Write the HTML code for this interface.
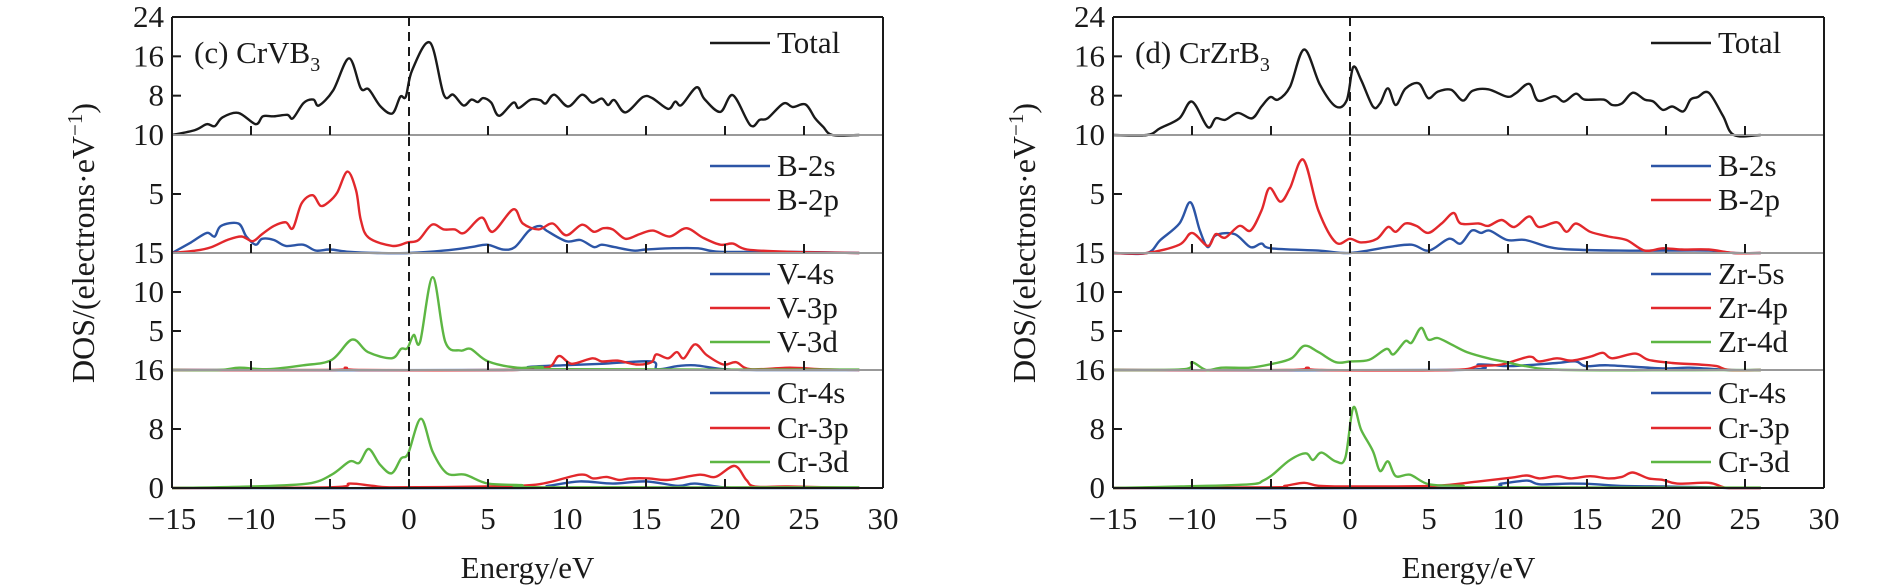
<!DOCTYPE html>
<html><head><meta charset="utf-8"><style>
html,body{margin:0;padding:0;background:#fff;}
svg{display:block;font-family:"Liberation Serif",serif;}
</style></head><body>
<svg id="chart" width="1890" height="587" viewBox="0 0 1890 587" xmlns="http://www.w3.org/2000/svg"></svg>
<script>
// ---------------- data: panel (c) CrVB3 ----------------
const cTotal=[[-15,0],[-13.55,1.0],[-12.8,2.2],[-12.3,1.8],[-11.8,3.6],[-10.8,4.5],[-9.7,2.2],[-9.25,3.8],[-8.55,3.8],[-7.7,4.1],[-7.35,3.4],[-6.67,6.5],[-6.05,7.2],[-5.7,6.0],[-4.8,9.1],[-3.8,15.6],[-3.05,9.5],[-2.55,9.3],[-1.8,5.8],[-1.05,4.4],[-0.55,7.8],[-0.2,7.8],[0.2,13.2],[1.33,18.8],[2.2,8.2],[2.8,8.2],[3.45,6.0],[3.95,7.2],[4.35,6.7],[4.7,7.5],[5.2,6.6],[5.7,3.9],[6.6,6.6],[6.95,5.5],[7.7,7.2],[8.3,7.1],[8.65,6.4],[9.2,8.2],[10.07,5.8],[10.95,8.2],[11.6,6.6],[12.2,7.4],[12.6,6.1],[13.0,7.1],[13.7,4.6],[14.8,7.7],[15.4,7.5],[16.4,5.3],[16.85,6.8],[17.25,6.1],[18.2,9.7],[18.7,7.3],[19.7,4.7],[20.5,8.1],[21.6,2.0],[22.2,3.1],[22.7,3.4],[23.7,6.4],[24.3,5.7],[25.1,6.2],[25.7,3.4],[26.2,1.7],[26.8,0],[28.5,0]];
const cB2s=[[-15,0],[-13.8,0.9],[-12.8,1.7],[-12.3,1.4],[-11.9,2.3],[-10.8,2.5],[-10.3,1.4],[-9.7,0.7],[-9.3,1.2],[-8.55,1.1],[-7.8,0.6],[-6.7,0.7],[-5.9,0.2],[-5.0,0.3],[-3.8,0.1],[-2,0],[0,0],[2.2,0.2],[3.95,0.5],[4.95,0.7],[5.95,0.3],[6.7,0.5],[7.6,1.9],[8.3,2.3],[8.7,1.9],[9.95,1.0],[10.85,1.1],[11.7,0.5],[12.2,0.7],[13,0.5],[14.2,0.2],[15,0.3],[16.5,0.4],[18.3,0.4],[19.7,0.1],[24,0.1],[28.5,0]];
const cB2p=[[-15,0],[-13.5,0.2],[-12.5,0.5],[-11.5,1.1],[-10.6,1.4],[-9.9,1.0],[-9.3,1.6],[-8.55,2.3],[-7.8,2.6],[-7.35,2.1],[-6.8,4.2],[-6.1,4.9],[-5.6,4.0],[-5.1,4.3],[-4.55,5.1],[-3.9,6.9],[-3.35,5.3],[-3.05,2.8],[-2.55,1.3],[-1.05,0.6],[-0.1,0.9],[0.6,1.1],[1.45,2.4],[2.2,2.0],[2.9,2.0],[3.5,1.7],[4.6,3.0],[5.3,1.8],[6.6,3.7],[7.2,2.5],[8.2,2.0],[9.1,2.5],[9.95,1.5],[10.95,2.4],[11.7,1.8],[12.3,2.1],[12.9,2.0],[13.7,1.2],[14.6,1.6],[15.45,1.9],[16.5,1.4],[17.55,2.1],[18.6,1.3],[19.7,0.7],[20.5,0.8],[21.4,0.3],[24,0.1],[28.5,0]];
const cV4s=[[-15,0],[6,0],[7.6,0.4],[9.7,0.6],[12.2,0.8],[15.35,1.1],[15.7,0.1],[17,0.5],[18.1,0.6],[19.9,0.1],[22,0],[28.5,0]];
const cV3p=[[-15,0],[-5,0],[-4.0,0.3],[-3,0],[6.5,0],[7.6,0.3],[8.9,0.4],[9.5,1.8],[10.3,0.8],[11.6,1.5],[12.2,1.1],[13.2,1.2],[14.4,0.7],[15.35,1.0],[15.65,2.0],[16.4,1.5],[16.95,2.3],[17.4,1.5],[18.1,3.3],[18.85,1.9],[19.9,0.7],[20.7,1.0],[21.6,0.1],[24.1,0.3],[26,0.1],[28.5,0]];
const cV3d=[[-15,0],[-12,0],[-10.75,0.3],[-9,0.1],[-6.7,0.6],[-4.9,1.3],[-3.6,3.9],[-2.6,2.3],[-1.1,1.5],[-0.5,2.7],[-0.1,2.8],[0.3,4.5],[0.7,3.6],[1.5,11.9],[2.3,3.6],[3.25,2.5],[3.9,2.7],[5.0,1.1],[6.85,0.3],[8.4,0.4],[9.8,0.1],[28.5,0.05]];
const cCr4s=[[-15,0],[7,0],[8.8,0.3],[10.8,0.9],[12.9,0.6],[15,0.9],[17,0.3],[18.1,0.6],[19.9,0.1],[22,0],[28.5,0]];
const cCr3p=[[-15,0],[-5,0.1],[-3.75,0.6],[-2.3,0.3],[-1,0.1],[5,0.2],[8.2,0.5],[10.8,1.8],[11.65,1.3],[12.5,1.5],[13.3,1.1],[14.0,1.3],[15.2,1.3],[16.4,1.1],[18.4,1.8],[19.4,1.5],[20.6,3.0],[21.35,1.1],[21.9,0.2],[24,0.2],[28.5,0]];
const cCr3d=[[-15,0],[-10,0.2],[-6.4,0.6],[-4.9,1.8],[-3.75,3.6],[-3.15,3.4],[-2.55,5.3],[-1.85,3.2],[-1.1,2.0],[-0.5,4.0],[-0.05,4.7],[0.75,9.4],[1.5,4.9],[2.4,2.0],[3.55,1.8],[5.0,0.6],[7.1,0.4],[8.5,0.1],[28.5,0.1]];
// ---------------- data: panel (d) CrZrB3 ----------------
const dTotal=[[-15,0],[-12.85,0],[-12,1.4],[-10.8,3.4],[-10.0,6.8],[-9.0,1.6],[-8.5,3.4],[-7.9,3.1],[-7.1,4.5],[-6.2,3.4],[-5.6,5.8],[-5.05,7.7],[-4.55,7.2],[-3.8,9.8],[-2.9,17.4],[-1.9,10.2],[-0.9,5.8],[-0.2,7.1],[0.2,13.8],[0.7,11.2],[1.45,5.8],[1.9,6.4],[2.4,9.5],[2.9,6.1],[3.5,9.4],[4.35,10.5],[4.95,7.5],[5.55,8.8],[6.4,9.2],[7.15,7.0],[7.75,9.0],[8.75,9.3],[9.95,7.8],[10.5,8.5],[11.35,10.4],[11.9,7.0],[12.95,7.9],[13.55,6.8],[14.3,8.4],[14.85,7.2],[16.05,7.2],[16.6,6.1],[17.2,6.4],[17.9,8.6],[18.65,7.2],[19.2,6.8],[19.8,5.1],[20.4,5.8],[21.1,4.8],[21.55,7.2],[22,7.7],[22.7,8.6],[23.6,3.9],[24.3,0],[26,0]];
const dB2s=[[-15,0],[-12.85,0],[-12,1.1],[-10.8,2.5],[-10.1,4.3],[-9.5,1.9],[-9.0,0.5],[-8.5,1.5],[-7.3,1.6],[-6.3,0.5],[-5.6,0.8],[-5.0,0.4],[-2.0,0.2],[0,0],[2.4,0.5],[3.9,0.7],[5.0,0.2],[6.25,1.2],[7.0,0.8],[7.7,1.9],[8.3,1.7],[8.85,1.9],[9.95,1.1],[11.1,1.1],[12.6,0.5],[14,0.3],[17,0.2],[19.8,0.2],[22.7,0.2],[24.3,0],[26,0]];
const dB2p=[[-15,0],[-12.85,0],[-10.8,0.7],[-10,1.7],[-9,0.6],[-8.5,1.6],[-7.9,1.3],[-7.0,2.3],[-6.3,1.9],[-5.6,3.6],[-5.1,5.5],[-4.4,4.35],[-3.8,5.5],[-2.95,7.9],[-2.0,3.6],[-0.9,0.9],[0,1.2],[0.7,0.9],[1.7,1.2],[2.4,2.2],[2.9,1.8],[3.5,2.5],[4.2,2.3],[4.95,1.7],[5.8,2.5],[6.55,3.4],[7.0,2.5],[8.15,2.5],[8.75,2.3],[9.6,2.8],[10.4,2.2],[11.35,3.1],[11.95,2.2],[13.1,2.6],[13.7,1.8],[14.3,2.5],[15.2,1.8],[16.35,1.4],[17.5,1.1],[18.65,0.2],[19.8,0.4],[21,0.3],[22.7,0.3],[24.3,0],[26,0]];
const dZr5s=[[-15,0],[6.5,0],[8.15,0.7],[9.9,0.5],[11.1,0.6],[13.1,0.9],[14.3,1.1],[14.9,0.5],[16.35,0.6],[19.8,0.2],[21.5,0.3],[24,0],[26,0]];
const dZr4p=[[-15,0],[-4,0],[-2.7,0.3],[-1.8,0],[6.4,0],[8.15,0.5],[9.6,0.7],[11.35,1.7],[11.95,1.1],[13.1,1.5],[14,1.2],[15.2,1.7],[16.0,2.2],[16.6,1.5],[18.05,2.1],[18.9,1.3],[20.4,0.9],[22.1,0.7],[23.2,0.5],[24,0],[26,0]];
const dZr4d=[[-15,0],[-10.5,0.1],[-10.0,1.0],[-9.1,0],[-8.1,0.3],[-6.35,0.3],[-4.9,0.8],[-3.7,1.5],[-2.9,3.1],[-2.0,2.3],[-0.9,1.0],[0,1.1],[1.2,1.3],[2.3,2.7],[2.75,2.0],[3.5,3.7],[3.9,3.5],[4.5,5.4],[4.95,3.9],[5.55,4.1],[6.4,3.3],[7.4,2.3],[8.75,1.5],[9.95,1.0],[11.1,0.5],[14,0],[26,0]];
const dCr4s=[[-15,0],[7,0],[9.6,0.6],[11.2,1.0],[12,0.5],[14,0.6],[15.6,0.5],[17,0.3],[19.8,0.2],[22.7,0.1],[24,0],[26,0]];
const dCr3p=[[-15,0],[-5,0.1],[-4.1,0.3],[-2.9,0.7],[-2,0.3],[0,0.2],[5.3,0.3],[8.15,0.9],[10.2,1.4],[11.2,1.7],[12,1.3],[13.1,1.6],[14,1.3],[15.2,1.6],[16.35,1.3],[17.2,1.5],[17.9,2.1],[18.9,1.3],[19.8,1.1],[20.7,0.6],[22.7,0.7],[23.5,0.2],[24,0],[26,0]];
const dCr3d=[[-15,0],[-10.7,0.2],[-6.35,0.5],[-5.5,1.0],[-4.9,1.8],[-3.8,3.8],[-2.8,4.7],[-2.35,3.8],[-1.8,4.8],[-0.9,3.6],[-0.3,4.1],[0.2,10.9],[0.7,7.9],[1.45,5.0],[1.9,2.3],[2.4,3.6],[2.9,1.6],[3.8,1.8],[5.0,0.5],[7.1,0.3],[8.5,0.1],[26,0.05]];
// axis ticks / labels
const xTicks=[-15,-10,-5,0,5,10,15,20,25,30];
const innerTicks=[-10,-5,0,5,10,15,20,25];
const subMax=[24,10,15,16];
const subTickVals=[[24,16,8],[5],[10,5],[8,0]];
const boundaryLabels=["10","15","16"];
const legendsC=[["Total"],["B-2s","B-2p"],["V-4s","V-3p","V-3d"],["Cr-4s","Cr-3p","Cr-3d"]];
const legendsD=[["Total"],["B-2s","B-2p"],["Zr-5s","Zr-4p","Zr-4d"],["Cr-4s","Cr-3p","Cr-3d"]];
const seriesC=[[cTotal],[cB2s,cB2p],[cV4s,cV3p,cV3d],[cCr4s,cCr3p,cCr3d]];
const seriesD=[[dTotal],[dB2s,dB2p],[dZr5s,dZr4p,dZr4d],[dCr4s,dCr3p,dCr3d]];

const NS="http://www.w3.org/2000/svg";
const svg=document.getElementById('chart');
function mk(tag,attrs,parent){const e=document.createElementNS(NS,tag);for(const k in attrs)e.setAttribute(k,attrs[k]);(parent||svg).appendChild(e);return e;}
const colTotal=['#1a1a1a'];
const col2=['#2c55a6','#e2282c'];
const col3=['#2c55a6','#e2282c','#5db643'];
const subTop=[17,135,253,370], subBot=[135,253,370,488];
const PX=15.8;
function pathFrom(pts,sx,sy){
  const p=pts.map(d=>[sx(d[0]),sy(d[1])]);
  let s='M'+p[0][0].toFixed(1)+','+p[0][1].toFixed(1);
  for(let i=0;i<p.length-1;i++){
    const p0=p[i-1]||p[i],p1=p[i],p2=p[i+1],p3=p[i+2]||p2;
    const c1x=p1[0]+(p2[0]-p0[0])/6,c1y=p1[1]+(p2[1]-p0[1])/6;
    const c2x=p2[0]-(p3[0]-p1[0])/6,c2y=p2[1]-(p3[1]-p1[1])/6;
    s+='C'+c1x.toFixed(1)+','+c1y.toFixed(1)+' '+c2x.toFixed(1)+','+c2y.toFixed(1)+' '+p2[0].toFixed(1)+','+p2[1].toFixed(1);
  }
  return s;
}
function drawPanel(x0,title,legends,series,pname){
  const g=mk('g',{});
  
  
  const sx=e=>x0+(e+15)*PX;
  const xR=sx(30);
  // series
  for(let k=0;k<4;k++){
    const sy=v=>subBot[k]-v/subMax[k]*(subBot[k]-subTop[k]);
    const cols=series[k].length===1?colTotal:(series[k].length===2?col2:col3);
    series[k].forEach((s,j)=>{
      const p=mk('path',{d:pathFrom(s,sx,sy),fill:'none',stroke:cols[j],'stroke-width':2.4,'stroke-linejoin':'round'},g);
      
      
    });
    // legend
    legends[k].forEach((lab,j)=>{
      const ly=[[43],[166,200],[274,308,342],[393,428,462]][k][j];
      const lg=mk('g',{},g);
      
      
      mk('line',{x1:x0+538,x2:x0+598,y1:ly,y2:ly,stroke:cols[j],'stroke-width':2.6},lg);
      const t=mk('text',{x:x0+605,y:ly+10,'font-size':31,fill:'#1a1a1a'},lg);t.textContent=lab;
    });
    // separators & inner ticks
    if(k<3){
      const sep=mk('line',{x1:x0,x2:xR,y1:subBot[k],y2:subBot[k],stroke:'#999','stroke-width':2},g);
      
      
    }
    innerTicks.forEach(v=>{mk('line',{x1:sx(v),x2:sx(v),y1:subBot[k],y2:subBot[k]-9,stroke:'#1a1a1a','stroke-width':2},g);});
    // y ticks
    subTickVals[k].forEach(v=>{
      const y=sy(v);
      mk('line',{x1:x0,x2:x0+9,y1:y,y2:y,stroke:'#1a1a1a','stroke-width':2},g);
      const t=mk('text',{x:x0-8,y:y+10,'font-size':31,'text-anchor':'end',fill:'#1a1a1a'},g);t.textContent=v;
      
      
    });
    if(k<3){
      const t=mk('text',{x:x0-8,y:subBot[k]+10,'font-size':31,'text-anchor':'end',fill:'#1a1a1a'},g);t.textContent=boundaryLabels[k];
      
      
    }
  }
  // frame
  mk('line',{x1:x0,x2:xR,y1:17,y2:17,stroke:'#1a1a1a','stroke-width':2},g);
  mk('line',{x1:x0,x2:xR,y1:488,y2:488,stroke:'#1a1a1a','stroke-width':2},g);
  mk('line',{x1:x0,x2:x0,y1:17,y2:488,stroke:'#1a1a1a','stroke-width':2},g);
  mk('line',{x1:xR,x2:xR,y1:17,y2:488,stroke:'#1a1a1a','stroke-width':2},g);
  // fermi level
  const f=mk('line',{x1:sx(0),x2:sx(0),y1:17,y2:488,stroke:'#1a1a1a','stroke-width':2,'stroke-dasharray':'9,6'},g);
  
  
  // x tick labels
  xTicks.forEach(v=>{
    const t=mk('text',{x:sx(v),y:529,'font-size':31,'text-anchor':'middle',fill:'#1a1a1a'},g);
    t.textContent=(v<0?'\u2212'+(-v):String(v));
    
    
  });
  const xt=mk('text',{x:(x0+xR)/2,y:578,'font-size':31,'text-anchor':'middle',fill:'#1a1a1a'},g);
  xt.textContent='Energy/eV';
  
  
  const yt=mk('text',{x:0,y:0,'font-size':32,'text-anchor':'middle',fill:'#1a1a1a',transform:'translate('+(x0-78)+',243) rotate(-90)'},g);
  yt.innerHTML='DOS/(electrons·eV<tspan dy="-12" font-size="21">−1</tspan><tspan dy="12">)</tspan>';
  
  
  const tt=mk('text',{x:x0+22,y:63,'font-size':31,fill:'#1a1a1a'},g);
  tt.innerHTML=title+'<tspan dy="8" font-size="20">3</tspan>';
  
  
}
drawPanel(172,'(c) CrVB',legendsC,seriesC,'crvb3');
drawPanel(1113,'(d) CrZrB',legendsD,seriesD,'crzrb3');
</script>
</body></html>
